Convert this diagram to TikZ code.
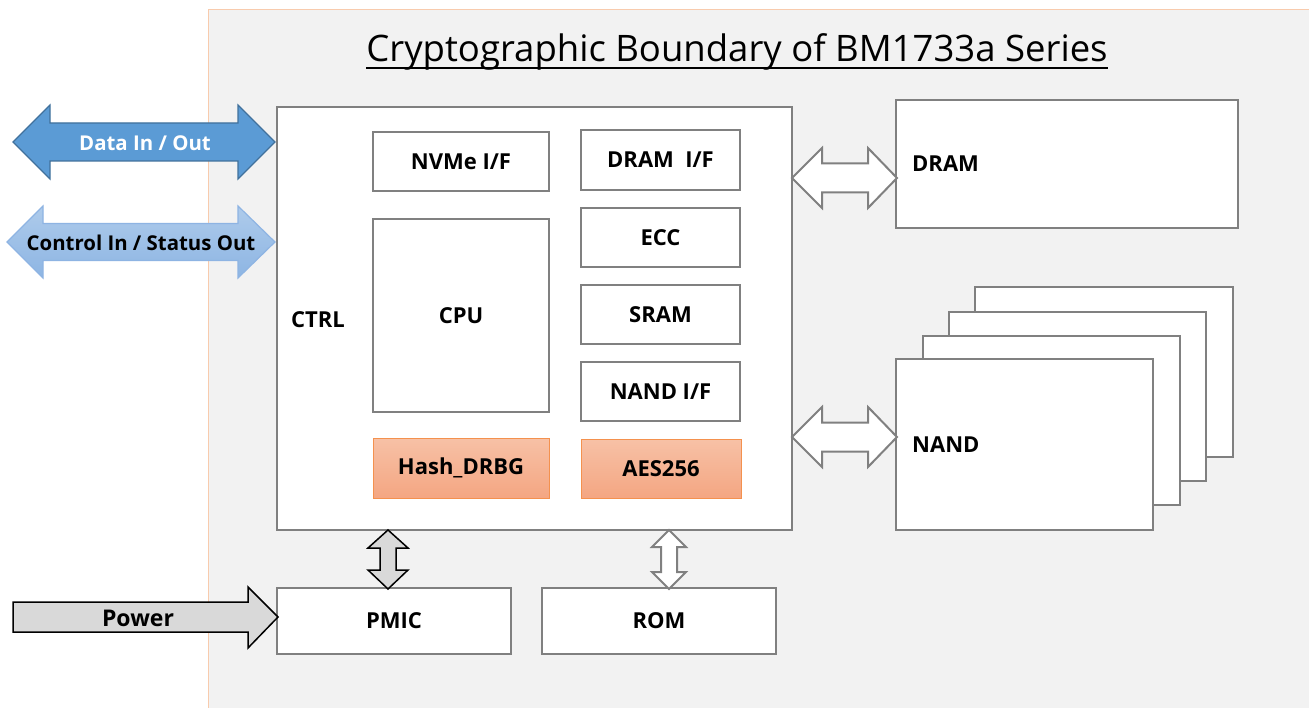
\documentclass[tikz,border=0pt]{standalone}
\usepackage{fontspec}
\setmainfont{Open Sans}
\usetikzlibrary{calc}
\definecolor{panel}{HTML}{F2F2F2}
\definecolor{panelline}{HTML}{F8CBAD}
\definecolor{boxline}{HTML}{808080}
\definecolor{dataf}{HTML}{5B9BD5}
\definecolor{datad}{HTML}{41719C}
\definecolor{ctrltop}{HTML}{AECBEB}
\definecolor{ctrlbot}{HTML}{8DB5E3}
\definecolor{ctrld}{HTML}{8EB4E3}
\definecolor{orgtop}{HTML}{F7C1A6}
\definecolor{orgbot}{HTML}{F4A682}
\definecolor{orgd}{HTML}{F4914E}
\definecolor{grayf}{HTML}{D9D9D9}
\newcommand\hdarr[8]{% style, xL, xR, yc, bL, bR, halfhead, halfshaft
  \path[#1] (#2,#4) -- (#5,#4-#7) -- (#5,#4-#8) -- (#6,#4-#8) -- (#6,#4-#7) -- (#3,#4)
   -- (#6,#4+#7) -- (#6,#4+#8) -- (#5,#4+#8) -- (#5,#4+#7) -- cycle;}
\newcommand\vdarr[8]{% style, xc, yT, yB, bT, bB, halfhead, halfshaft
  \path[#1] (#2,#3) -- (#2+#7,#5) -- (#2+#8,#5) -- (#2+#8,#6) -- (#2+#7,#6) -- (#2,#4)
   -- (#2-#7,#6) -- (#2-#8,#6) -- (#2-#8,#5) -- (#2-#7,#5) -- cycle;}
\begin{document}
\begin{tikzpicture}[x=1pt,y=-1pt,
  box/.style={draw=boxline, line width=1.5pt, fill=white, inner sep=0pt, font=\fontsize{22}{26}\selectfont\bfseries},
  cbox/.style={draw=orgd, line width=1pt, top color=orgtop, bottom color=orgbot, inner sep=0pt, font=\fontsize{22}{26}\selectfont\bfseries},
  lbl/.style={inner sep=0pt, font=\fontsize{22}{26}\selectfont\bfseries},
  arrlbl/.style={inner sep=0pt, font=\fontsize{20.4}{24}\selectfont\bfseries}]
\useasboundingbox (0,0) rectangle (1309,708);
\fill[white] (0,0) rectangle (1309,708);
\fill[panel] (208,10) rectangle (1309,708);
\draw[panelline, line width=1pt] (208,708) -- (208,10) -- (1309,10);

% title
\node[inner sep=0pt, anchor=base, font=\fontsize{36.5}{44}\selectfont] (title) at (737,62) {Cryptographic Boundary of BM1733a Series};
\draw[line width=1.3pt] ([yshift=-6pt]title.base west) -- ([yshift=-6pt]title.base east);

% controller
\node[box, minimum width=515, minimum height=423] (ctrl) at (534.5,318.5) {};
\node[lbl] (ctrllbl) at (318,320) {CTRL};
\node[box, minimum width=176, minimum height=59] (nvme) at (461,161.5) {NVMe I/F};
\node[box, minimum width=176, minimum height=193] (cpu) at (461,315.5) {CPU};
\node[cbox, minimum width=176, minimum height=60] (hash) at (461,468) {Hash\_DRBG};
\node[box, minimum width=159, minimum height=60] (dramif) at (660.5,160) {DRAM~ I/F};
\node[box, minimum width=159, minimum height=59] (ecc) at (660.5,237.5) {ECC};
\node[box, minimum width=159, minimum height=59] (sram) at (660.5,314.5) {SRAM};
\node[box, minimum width=159, minimum height=59] (nandif) at (660.5,391.5) {NAND I/F};
\node[cbox, minimum width=160, minimum height=59] (aes) at (661,468.5) {AES256};

% DRAM
\node[box, minimum width=342, minimum height=128] (dram) at (1067,164) {};
\node[lbl, anchor=west] (dramlbl) at (912,164) {DRAM};

% NAND stack
\node[box, minimum width=258, minimum height=170] (nand4) at (1104,372) {};
\node[box, minimum width=257, minimum height=169] (nand3) at (1077.5,396.5) {};
\node[box, minimum width=257, minimum height=169] (nand2) at (1051.5,420.5) {};
\node[box, minimum width=257, minimum height=171] (nand1) at (1024.5,444.5) {};
\node[lbl, anchor=west] (nandlbl) at (912,445) {NAND};

% PMIC / ROM
\node[box, minimum width=234, minimum height=66] (pmic) at (394,621) {PMIC};
\node[box, minimum width=234, minimum height=66] (rom) at (659,621) {ROM};

% left arrows
\hdarr{fill=dataf, draw=datad, line width=1.2pt}{13}{275}{142}{50}{238}{37}{19}
\node[arrlbl, text=white] (datalbl) at (145,143) {Data In / Out};
\hdarr{top color=ctrltop, bottom color=ctrlbot, draw=ctrld, line width=1.2pt}{7}{275}{242}{43}{238}{36}{18.5}
\node[arrlbl] (ctllbl) at (141,243) {Control In / Status Out};

% power
\path[fill=grayf, draw=black, line width=1.5pt] (13,602) -- (248,602) -- (248,587) -- (278,617)
  -- (248,648) -- (248,632) -- (13,632) -- cycle;
\node[inner sep=0pt, font=\fontsize{23}{28}\selectfont\bfseries] (powlbl) at (138,618) {Power};

% memory arrows
\hdarr{fill=white, draw=boxline, line width=2pt}{792}{897}{178}{822}{868}{30}{14.5}
\hdarr{fill=white, draw=boxline, line width=2pt}{792}{897}{437}{822}{868}{30}{14.5}

% vertical arrows
\vdarr{fill=grayf, draw=black, line width=1.5pt}{388}{530}{589}{548}{570}{20}{8}
\vdarr{fill=white, draw=boxline, line width=2pt}{669}{530}{589}{547}{572}{17}{8}
\end{tikzpicture}
\end{document}
